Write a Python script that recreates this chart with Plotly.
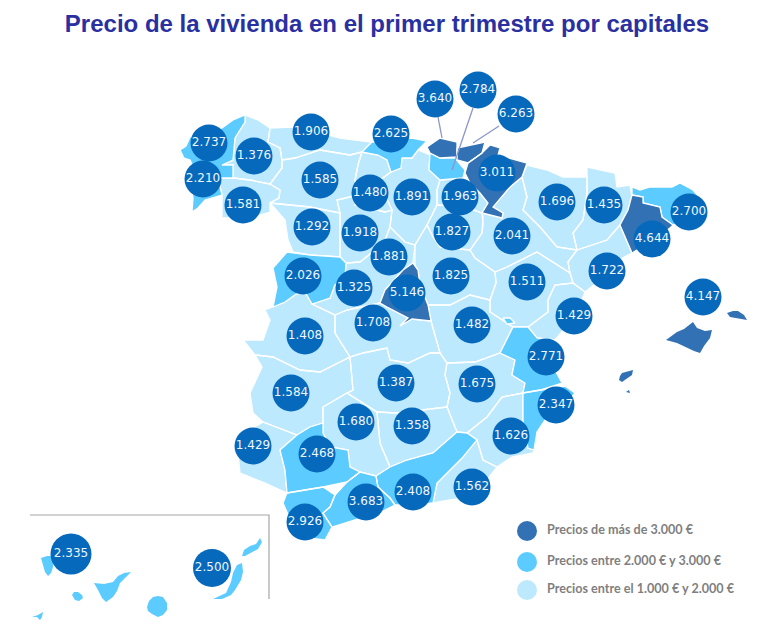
import plotly.graph_objects as go

TITLE = "Precio de la vivienda en el primer trimestre por capitales"

# Price labels (EUR/m2) with their position on the reference picture
bubble_values = [3640, 2784, 6263, 2737, 1376, 1906, 2625, 2210, 1585, 1480, 1891, 1963, 3011,
                 1696, 1435, 2700, 1581, 1292, 1918, 1827, 2041, 4644, 1881, 2026, 1825, 1325,
                 5146, 1511, 1722, 4147, 1708, 1429, 1482, 1408, 2771, 1387, 1675, 1584, 2347,
                 1680, 1358, 1626, 1429, 2468, 2408, 1562, 3683, 2926]
bubble_x = [435, 478, 516, 209, 254, 311, 391, 203, 320, 370, 412, 460, 497,
            557, 604, 689, 243, 312, 360, 452, 512, 652, 389, 303, 451, 354,
            407, 527, 607, 703, 373, 574, 472, 305, 546, 396, 477, 291, 556,
            356, 412, 511, 253, 317, 413, 472, 366, 305]
bubble_y = [99, 90, 114, 143, 156, 132, 134, 179, 180, 193, 197, 197, 173,
            202, 205, 212, 205, 227, 233, 232, 236, 239, 257, 276, 276, 288,
            293, 282, 271, 297, 323, 316, 325, 336, 357, 383, 384, 393, 405,
            422, 426, 436, 446, 454, 492, 487, 502, 522]

canary_values = [2335, 2500]
canary_x = [71, 212]
canary_y = [554, 568]

# Provinces
A_CORUNA = [(180,150),(186,146),(190,137),(205,134),(222,128),(233,120),(245,115),(245,122),(235,138),(233,160),(222,165),(233,165),(233,178),(218,178),(213,172),(195,170),(190,160),(184,158)]
PONTEVEDRA = [(192,212),(193,198),(190,180),(195,170),(213,172),(218,178),(222,195),(215,197),(205,200),(198,208)]
LUGO = [(245,115),(258,120),(270,128),(268,142),(280,148),(282,160),(282,168),(270,184),(250,180),(233,178),(233,165),(222,165),(233,160),(235,138),(245,122)]
OURENSE = [(218,178),(233,178),(250,180),(270,184),(280,190),(279,198),(270,203),(270,212),(260,215),(240,218),(222,218),(222,195)]
ASTURIAS = [(270,128),(290,127),(310,130),(340,138),(355,140),(372,142),(362,152),(350,155),(320,150),(295,158),(282,160),(280,148),(268,142)]
CANTABRIA = [(372,142),(395,140),(412,138),(427,141),(418,150),(412,158),(402,158),(401,168),(391,172),(387,160),(378,155),(362,152)]
LEON = [(282,160),(295,158),(320,150),(350,155),(362,152),(358,165),(355,180),(358,195),(337,200),(340,213),(310,207),(270,203),(279,198),(280,190),(270,184),(282,168)]
ZAMORA = [(270,203),(310,207),(340,213),(340,257),(310,255),(293,252),(288,240),(285,220)]
PALENCIA = [(362,152),(378,155),(387,160),(391,172),(380,180),(385,195),(392,210),(385,212),(355,205),(358,195),(355,180),(358,165)]
BURGOS = [(391,172),(401,168),(402,158),(412,158),(418,150),(430,155),(429,170),(440,180),(437,190),(437,205),(432,215),(427,225),(415,245),(405,242),(390,227),(392,210),(385,195),(380,180)]
ALAVA = [(430,153),(440,158),(455,158),(465,170),(463,178),(440,180),(429,170)]
VIZCAYA = [(427,147),(440,138),(457,142),(457,157),(440,158),(430,153)]
GUIPUZCOA = [(457,148),(485,142),(482,153),(468,163),(457,160)]
NAVARRA = [(465,173),(468,163),(482,153),(490,145),(500,148),(498,155),(527,163),(522,177),(510,187),(493,207),(503,213),(502,218),(482,213),(488,203),(480,193),(470,183)]
LA_RIOJA = [(440,180),(463,178),(470,183),(480,193),(488,203),(482,213),(465,207),(437,205),(437,190)]
HUESCA = [(527,165),(547,170),(563,177),(587,177),(587,193),(583,220),(573,233),(577,250),(557,247),(540,227),(523,210),(527,197),(522,177)]
LLEIDA = [(587,167),(615,173),(617,187),(630,185),(632,197),(628,210),(620,225),(607,240),(577,250),(573,233),(583,220),(587,193)]
GIRONA = [(632,187),(640,190),(650,187),(672,187),(680,183),(693,190),(706,205),(690,220),(673,225),(662,217),(660,207),(643,203),(643,197),(632,195)]
BARCELONA = [(632,195),(643,197),(643,203),(660,207),(662,217),(673,225),(670,228),(653,240),(632,253),(620,225),(628,210)]
TARRAGONA = [(577,250),(607,240),(620,225),(632,253),(615,262),(600,280),(585,292),(573,283),(570,273),(568,262)]
ZARAGOZA = [(482,213),(502,218),(503,213),(493,207),(510,187),(522,177),(527,197),(523,210),(540,227),(557,247),(577,250),(568,262),(570,273),(557,265),(537,252),(507,267),(495,272),(475,258),(470,250),(482,233),(483,217)]
SORIA = [(437,205),(465,207),(482,213),(483,225),(482,233),(470,250),(440,247),(433,237),(427,225),(432,215)]
VALLADOLID = [(340,213),(337,200),(358,195),(355,205),(385,212),(392,210),(390,227),(385,240),(375,250),(360,262),(346,263),(340,257)]
SEGOVIA = [(385,240),(390,227),(405,242),(415,245),(415,268),(403,270),(395,268),(375,250)]
SALAMANCA = [(273,268),(287,252),(310,255),(340,257),(346,263),(345,277),(335,285),(330,298),(312,304),(305,292),(296,294),(285,302),(273,307),(277,287)]
AVILA = [(346,263),(360,262),(375,250),(395,268),(403,270),(385,290),(380,303),(347,310),(335,315),(312,304),(330,298),(335,285),(345,277)]
MADRID = [(413,263),(418,270),(420,285),(428,305),(431,321),(412,319),(400,326),(408,318),(387,307),(380,303),(385,290),(403,270)]
GUADALAJARA = [(415,245),(427,225),(433,237),(440,247),(470,250),(475,258),(495,272),(496,283),(490,300),(470,295),(450,305),(428,305),(420,285),(418,270),(413,263)]
CUENCA = [(431,321),(428,305),(450,305),(470,295),(490,300),(490,312),(513,327),(500,353),(475,362),(447,363),(440,353)]
TERUEL = [(495,272),(507,267),(537,252),(557,265),(570,273),(573,283),(555,285),(548,300),(548,312),(528,327),(513,327),(490,312),(490,300),(496,283)]
CASTELLON = [(573,283),(585,292),(580,305),(565,328),(555,340),(537,338),(528,327),(548,312),(548,300),(555,285)]
VALENCIA = [(500,353),(513,327),(528,327),(537,338),(555,340),(555,370),(562,383),(540,390),(523,393),(525,383),(512,375),(515,360)]
ADEMUZ = [(503,318),(510,318),(515,323),(507,324)]
ALICANTE = [(523,393),(540,390),(565,386),(575,393),(565,405),(545,420),(537,432),(534,450),(528,448),(523,420)]
MURCIA = [(467,433),(487,417),(502,397),(523,393),(523,420),(528,448),(534,450),(533,453),(512,457),(497,467),(483,460),(477,440)]
ALBACETE = [(447,363),(475,362),(500,353),(515,360),(512,375),(525,383),(523,393),(502,397),(487,417),(467,433),(457,432),(447,407),(450,393),(445,375)]
TOLEDO = [(335,315),(347,310),(380,303),(387,307),(408,318),(400,326),(412,319),(431,321),(440,353),(430,353),(408,363),(390,360),(387,348),(363,353),(350,357),(335,333)]
CIUDAD_REAL = [(363,353),(387,348),(390,360),(408,363),(430,353),(440,353),(447,363),(445,375),(450,393),(447,407),(397,413),(377,412),(347,393),(353,390),(350,357)]
CACERES = [(265,310),(273,307),(285,302),(296,294),(305,292),(312,304),(335,315),(335,333),(350,357),(320,372),(300,370),(273,357),(255,355),(243,340),(263,340),(270,320)]
BADAJOZ = [(255,355),(273,357),(300,370),(320,372),(350,357),(353,390),(347,393),(323,407),(323,423),(310,427),(297,435),(263,422),(253,413),(250,393),(262,367)]
HUELVA = [(263,422),(297,435),(280,450),(285,470),(287,493),(265,483),(240,473),(238,455),(250,430)]
SEVILLA = [(280,450),(297,435),(310,427),(323,423),(323,433),(330,447),(348,450),(350,467),(360,472),(347,482),(323,487),(287,493),(285,470)]
CORDOBA = [(323,407),(347,393),(377,412),(380,443),(390,467),(376,476),(360,472),(350,467),(348,450),(330,447),(323,433),(323,423)]
JAEN = [(377,412),(397,413),(447,407),(457,432),(433,453),(407,460),(390,467),(380,443)]
CADIZ = [(287,493),(323,487),(335,495),(330,507),(323,513),(332,527),(325,540),(308,538),(295,530),(288,515),(283,503)]
MALAGA = [(335,495),(347,482),(360,472),(376,476),(378,487),(390,498),(395,505),(375,515),(355,520),(332,527),(323,513),(330,507)]
GRANADA = [(376,476),(390,467),(407,460),(433,453),(457,432),(467,433),(477,440),(463,457),(450,470),(437,483),(433,503),(415,505),(395,505),(390,498),(378,487)]
ALMERIA = [(467,433),(477,440),(483,460),(497,467),(487,480),(473,497),(450,500),(433,503),(437,483),(450,470),(463,457)]
MALLORCA = [(666,340),(677,332),(684,329),(693,322),(697,328),(705,331),(712,330),(710,338),(704,346),(700,353),(694,351),(688,348),(677,343)]
MENORCA = [(727,313),(733,311),(738,311),(744,315),(747,320),(737,318),(730,317)]
IBIZA = [(619,380),(620,376),(622,373),(633,370),(632,375),(626,379),(622,382)]
FORMENTERA = [(626,392),(629,390),(630,393)]
LA_PALMA = [(41,558),(47,556),(53,556),(53,567),(51,573),(48,576),(45,572),(43,566)]
TENERIFE = [(94,583),(104,584),(113,582),(118,576),(124,573),(131,572),(125,578),(120,583),(117,591),(113,597),(106,602),(102,598),(98,590)]
LA_GOMERA = [(72,595),(74,592),(78,592),(82,595),(83,598),(79,601),(75,600)]
EL_HIERRO = [(32,617),(38,615),(43,612),(42,617),(40,620),(37,617)]
GRAN_CANARIA = [(147,607),(149,601),(153,597),(158,596),(163,597),(167,603),(167,610),(163,615),(158,617),(152,614),(148,611)]
FUERTEVENTURA = [(213,599),(220,596),(226,593),(231,582),(233,573),(237,565),(242,563),(243,572),(241,580),(235,590),(231,595),(222,599)]
LANZAROTE = [(242,556),(244,550),(250,546),(256,544),(260,538),(262,542),(258,549),(251,553),(245,556)]

light_provinces = [LUGO, OURENSE, ASTURIAS, LEON, ZAMORA, PALENCIA, BURGOS, LA_RIOJA, HUESCA, LLEIDA,
                   TARRAGONA, ZARAGOZA, SORIA, VALLADOLID, SEGOVIA, AVILA, GUADALAJARA, CUENCA, TERUEL,
                   CASTELLON, MURCIA, ALBACETE, TOLEDO, CIUDAD_REAL, CACERES, BADAJOZ, HUELVA, CORDOBA,
                   JAEN, ALMERIA]
mid_provinces = [A_CORUNA, PONTEVEDRA, CANTABRIA, ALAVA, GIRONA, SALAMANCA, VALENCIA, ADEMUZ, ALICANTE,
                 SEVILLA, CADIZ, MALAGA, GRANADA]
canary_islands = [LA_PALMA, TENERIFE, LA_GOMERA, EL_HIERRO, GRAN_CANARIA, FUERTEVENTURA, LANZAROTE]
dark_provinces = [VIZCAYA, GUIPUZCOA, NAVARRA, BARCELONA, MADRID]
balearic_islands = [MALLORCA, MENORCA, IBIZA, FORMENTERA]

leader_lines = [[(438,117),(442,138)], [(473,108),(452,170)], [(499,126),(473,143)]]
inset_frame = [(30,515),(269,515),(269,599)]

legend_labels = ["Precios de más de 3.000 €", "Precios entre 2.000 € y 3.000 €", "Precios entre el 1.000 € y 2.000 €"]
legend_x = [527, 527, 527]
legend_text_x = [547, 547, 547]
legend_y = [531, 562, 590]

DARK = "#3272b4"
MID = "#5ccbff"
LIGHT = "#bde9ff"
BUBBLE = "#0669bc"


def fmt(v):
    return f"{v:,}".replace(",", ".")


def polys(shapes):
    xs, ys = [], []
    for s in shapes:
        xs += [p[0] for p in s] + [s[0][0], None]
        ys += [p[1] for p in s] + [s[0][1], None]
    return xs, ys


def lines(paths):
    xs, ys = [], []
    for s in paths:
        xs += [p[0] for p in s] + [None]
        ys += [p[1] for p in s] + [None]
    return xs, ys


fig = go.Figure()
for shapes, color, lw in ((light_provinces, LIGHT, 1.3), (mid_provinces, MID, 1.3), (dark_provinces, DARK, 1.3),
                          (canary_islands, MID, 0), (balearic_islands, DARK, 0)):
    x, y = polys(shapes)
    fig.add_trace(go.Scatter(x=x, y=y, mode="lines", fill="toself", fillcolor=color,
                             line=dict(color="white" if lw else color, width=lw), hoverinfo="skip", showlegend=False))
x, y = lines(leader_lines)
fig.add_trace(go.Scatter(x=x, y=y, mode="lines", line=dict(color="#8a96cc", width=1.3),
                         hoverinfo="skip", showlegend=False))
x, y = lines([inset_frame])
fig.add_trace(go.Scatter(x=x, y=y, mode="lines", line=dict(color="#a6a6a6", width=1.2),
                         hoverinfo="skip", showlegend=False))

fig.add_trace(go.Scatter(x=bubble_x, y=bubble_y, mode="markers+text",
                         marker=dict(size=37, color=BUBBLE, opacity=1, line=dict(width=0)),
                         text=[fmt(v) for v in bubble_values], textposition="middle center",
                         textfont=dict(family="DejaVu Sans", size=12, color="#eef7fd"),
                         showlegend=False))
fig.add_trace(go.Scatter(x=canary_x, y=canary_y, mode="markers+text",
                         marker=dict(size=[41, 38], color=BUBBLE, opacity=1, line=dict(width=0)),
                         text=[fmt(v) for v in canary_values], textposition="middle center",
                         textfont=dict(family="DejaVu Sans", size=12, color="#eef7fd"),
                         showlegend=False))
fig.add_trace(go.Scatter(x=legend_x, y=legend_y, mode="markers",
                         marker=dict(size=20, color=[DARK, MID, LIGHT], opacity=1, line=dict(width=0)),
                         hoverinfo="skip", showlegend=False))
fig.add_trace(go.Scatter(x=legend_text_x, y=legend_y, mode="text",
                         text=legend_labels, textposition="middle right",
                         textfont=dict(family="Lato", size=12.6, color="#7f7f7f", weight="bold"),
                         hoverinfo="skip", showlegend=False))

# The page body adds an 8 px margin, so the plot covers 8..768 by 8..624 of the picture
fig.update_layout(
    width=760, height=616, margin=dict(l=0, r=0, t=0, b=0),
    paper_bgcolor="white", plot_bgcolor="white",
    title=dict(text="<b>" + TITLE + "</b>", x=0.4987, xanchor="center", y=0.974, yanchor="middle",
               font=dict(family="Liberation Sans", size=24, color="#2a30a0")),
    xaxis=dict(range=[8, 768], visible=False, fixedrange=True),
    yaxis=dict(range=[624, 8], visible=False, fixedrange=True),
)
fig.write_html("out.html")
